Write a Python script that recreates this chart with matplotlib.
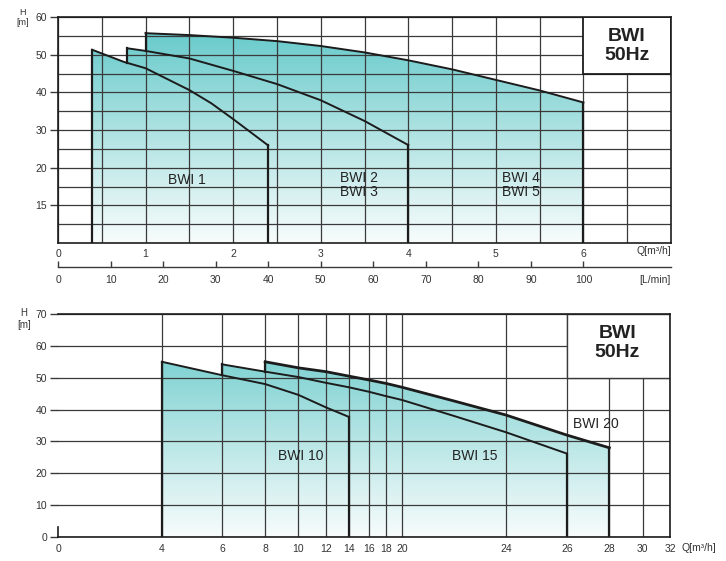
import numpy as np
import matplotlib.pyplot as plt
from matplotlib.colors import LinearSegmentedColormap
from matplotlib.patches import Rectangle

plt.rcParams['font.family'] = ['Liberation Sans', 'DejaVu Sans']

# ---- top chart: BWI 1 .. BWI 5 (Q in m3/h, H in m)
q_bwi1 = [0.39, 0.75, 1.0, 1.25, 1.5, 1.75, 2.0, 2.2, 2.4]
h_bwi1 = [51.3, 48.1, 46.4, 43.5, 40.6, 37.1, 32.9, 29.4, 25.9]
q_bwi23 = [0.79, 1.0, 1.5, 2.0, 2.5, 3.0, 3.5, 4.0]
h_bwi23 = [51.7, 51.0, 49.0, 45.7, 42.2, 37.9, 32.4, 26.0]
q_bwi45 = [1.0, 1.5, 2.0, 2.5, 3.0, 3.5, 4.0, 4.5, 5.0, 5.5, 6.0]
h_bwi45 = [55.7, 55.2, 54.5, 53.6, 52.3, 50.6, 48.5, 46.1, 43.3, 40.5, 37.3]
top_h_ticks = [15, 20, 30, 40, 50, 60]
top_h_axis = [10, 15, 20, 30, 40, 50, 60]   # non-linear H axis, equally spaced
top_q_ticks = [0, 1, 2, 3, 4, 5, 6]
lmin_ticks = [0, 10, 20, 30, 40, 50, 60, 70, 80, 90, 100]

# ---- bottom chart: BWI 10 / 15 / 20
q_bwi10 = [4, 6, 8, 10, 12, 14]
h_bwi10 = [55.0, 50.8, 48.0, 44.6, 40.7, 37.7]
q_bwi15 = [6, 8, 10, 12, 14, 16, 18, 20, 22, 24, 26]
h_bwi15 = [54.2, 51.9, 50.2, 48.4, 47.0, 45.6, 44.2, 43.0, 38.0, 32.9, 26.2]
q_bwi20 = [8, 10, 12, 14, 16, 18, 20, 22, 24, 26, 28]
h_bwi20 = [55.0, 53.1, 51.9, 50.5, 49.3, 48.2, 47.0, 42.7, 38.3, 32.0, 28.0]
bot_q_ticks = [0, 4, 6, 8, 10, 12, 14, 16, 18, 20, 24, 26, 28, 30, 32]
# spacing of the printed (non-linear) Q axis
bot_q_pos = [0, 104, 164, 207.3, 240.6, 268, 291, 311, 328.3, 344.3, 448, 509, 551.6, 585, 612.3]
bot_h_ticks = [0, 10, 20, 30, 40, 50, 60, 70]

LINE = '#1c1c1c'
GRID = '#3a3a3a'
TXT = '#333333'
teal = LinearSegmentedColormap.from_list('teal', ['#f8fcfc', '#aee2e2', '#5ec7c8'])
grad = np.linspace(1, 0, 256)[:, None]


def piecewise(xp, fp):
    xp = np.asarray(xp, float)
    fp = np.asarray(fp, float)

    def f(x):
        x = np.asarray(x, float)
        y = np.interp(x, xp, fp)
        y = np.where(x < xp[0], fp[0] + (x - xp[0]) * (fp[1] - fp[0]) / (xp[1] - xp[0]), y)
        y = np.where(x > xp[-1], fp[-1] + (x - xp[-1]) * (fp[-1] - fp[-2]) / (xp[-1] - xp[-2]), y)
        return y
    return f


def area(ax, q, h, base, prev=None, lw=1.4):
    q = np.asarray(q, float)
    h = np.asarray(h, float)
    low = base if prev is None else float(np.interp(q[0], prev[0], prev[1]))
    ax.plot(q, h, color=LINE, lw=lw, zorder=3, solid_joinstyle='round')
    ax.plot([q[0], q[0]], [h[0], low], color=LINE, lw=1.6, zorder=3)
    ax.plot([q[-1], q[-1]], [h[-1], base], color=LINE, lw=1.6, zorder=3)
    poly = ax.fill_between(q, h, base, facecolor='none', lw=0)
    im = ax.imshow(grad, cmap=teal, aspect='auto', extent=[0, 1, 0, 1],
                   transform=ax.transAxes, zorder=0.2, interpolation='bilinear')
    im.set_clip_path(poly.get_paths()[0], ax.transData)


fig = plt.figure(figsize=(7.26, 5.61), dpi=100)

# ================= top chart =================
ax1 = fig.add_axes([58 / 726, 1 - 243 / 561, 613 / 726, 226 / 561])
hpos = list(range(len(top_h_axis)))
ax1.set_yscale('function', functions=(piecewise(top_h_axis, hpos), piecewise(hpos, top_h_axis)))
ax1.set_axisbelow(True)

area(ax1, q_bwi1, h_bwi1, 10)
area(ax1, q_bwi23, h_bwi23, 10, prev=(q_bwi1, h_bwi1))
area(ax1, q_bwi45, h_bwi45, 10, prev=(q_bwi23, h_bwi23))

ax1.set_xlim(0, 7)
ax1.set_ylim(10, 60)
ax1.set_xticks(top_q_ticks)
ax1.set_xticks(np.arange(0.5, 7, 0.5), minor=True)
ax1.set_yticks(top_h_ticks)
mids = [(a + b) / 2 for a, b in zip(top_h_axis[:-1], top_h_axis[1:])]
ax1.set_yticks(mids, minor=True)
ax1.set_yticklabels([str(v) for v in top_h_ticks])
ax1.tick_params(axis='y', which='major', length=6, width=1, color=GRID,
                labelsize=7.5, labelcolor=TXT, pad=2)
ax1.tick_params(axis='x', which='major', length=0, labelsize=7.5, labelcolor=TXT, pad=4)
ax1.tick_params(which='minor', length=0)
ax1.grid(True, which='both', color=GRID, lw=0.9)
for s in ax1.spines.values():
    s.set_color(LINE)
    s.set_linewidth(1.2)
ax1.add_patch(Rectangle((6, 45), 1, 15, facecolor='white', edgecolor=LINE, lw=1.3, zorder=1))
ax1.text(0.928, 0.872, 'BWI\n50Hz', transform=ax1.transAxes, ha='center', va='center',
         fontsize=14, fontweight='bold', color='#222222', linespacing=1.15, zorder=4)
ax1.text(0.179, 0.279, 'BWI 1', transform=ax1.transAxes, ha='left', va='center',
         fontsize=10, color='#222222', zorder=4)
ax1.text(0.46, 0.255, 'BWI 2\nBWI 3', transform=ax1.transAxes, ha='left', va='center',
         fontsize=10, color='#222222', linespacing=1.0, zorder=4)
ax1.text(0.725, 0.255, 'BWI 4\nBWI 5', transform=ax1.transAxes, ha='left', va='center',
         fontsize=10, color='#222222', linespacing=1.0, zorder=4)

# L/min scale under the top chart
ax3 = fig.add_axes([58 / 726, 1 - 267 / 561, 613 / 726, 0.001])
ax3.set_xlim(0, 7 * 1000 / 60)
ax3.set_xticks(lmin_ticks)
ax3.set_yticks([])
ax3.patch.set_visible(False)
for side in ['top', 'left', 'right']:
    ax3.spines[side].set_visible(False)
ax3.spines['bottom'].set_color(GRID)
ax3.spines['bottom'].set_linewidth(1)
ax3.tick_params(axis='x', direction='in', length=4, width=1, color=GRID,
                labelsize=7.5, labelcolor=TXT, pad=6)

fig.text(22.7 / 726, 1 - 12.5 / 561, 'H', ha='center', va='center', fontsize=6.5, color=TXT)
fig.text(22.7 / 726, 1 - 22.5 / 561, '[m]', ha='center', va='center', fontsize=6.5, color=TXT)
fig.text(671 / 726, 1 - 251 / 561, 'Q[m³/h]', ha='right', va='center', fontsize=7.5, color=TXT)
fig.text(671 / 726, 1 - 279.5 / 561, '[L/min]', ha='right', va='center', fontsize=7.5, color=TXT)

# ================= bottom chart =================
ax2 = fig.add_axes([58 / 726, 1 - 537 / 561, 612 / 726, 223 / 561])
ax2.set_xscale('function', functions=(piecewise(bot_q_ticks, bot_q_pos), piecewise(bot_q_pos, bot_q_ticks)))
ax2.set_axisbelow(True)

area(ax2, q_bwi10, h_bwi10, 0)
area(ax2, q_bwi15, h_bwi15, 0, prev=(q_bwi10, h_bwi10))
area(ax2, q_bwi20, h_bwi20, 0, prev=(q_bwi15, h_bwi15), lw=2.0)

ax2.set_xlim(0, 32)
ax2.set_ylim(0, 70)
ax2.set_xticks(bot_q_ticks)
ax2.set_xticklabels([str(v) for v in bot_q_ticks])
ax2.set_yticks(bot_h_ticks)
ax2.tick_params(axis='y', length=6, width=1, color=GRID, labelsize=7.5, labelcolor=TXT, pad=2)
ax2.tick_params(axis='x', length=0, labelsize=7.5, labelcolor=TXT, pad=5)
ax2.grid(True, color=GRID, lw=0.9)
for s in ax2.spines.values():
    s.set_color(LINE)
    s.set_linewidth(1.2)
ax2.spines['left'].set_bounds(0, 3)
ax2.xaxis.get_major_ticks()[0].gridline.set_visible(False)
ax2.add_patch(Rectangle((26, 50), 6, 20, facecolor='white', edgecolor=GRID, lw=1.0, zorder=1))
ax2.text(0.914, 0.870, 'BWI\n50Hz', transform=ax2.transAxes, ha='center', va='center',
         fontsize=14, fontweight='bold', color='#222222', linespacing=1.15, zorder=4)
ax2.text(0.359, 0.363, 'BWI 10', transform=ax2.transAxes, ha='left', va='center',
         fontsize=10, color='#222222', zorder=4)
ax2.text(0.644, 0.363, 'BWI 15', transform=ax2.transAxes, ha='left', va='center',
         fontsize=10, color='#222222', zorder=4)
ax2.text(0.842, 0.507, 'BWI 20', transform=ax2.transAxes, ha='left', va='center',
         fontsize=10, color='#222222', zorder=4)

fig.text(23.3 / 726, 1 - 312.7 / 561, 'H', ha='center', va='center', fontsize=7, color=TXT)
fig.text(24 / 726, 1 - 325 / 561, '[m]', ha='center', va='center', fontsize=7, color=TXT)
fig.text(681.7 / 726, 1 - 548.3 / 561, 'Q[m³/h]', ha='left', va='center', fontsize=7.5, color=TXT)

fig.savefig('out.png', dpi=100)
